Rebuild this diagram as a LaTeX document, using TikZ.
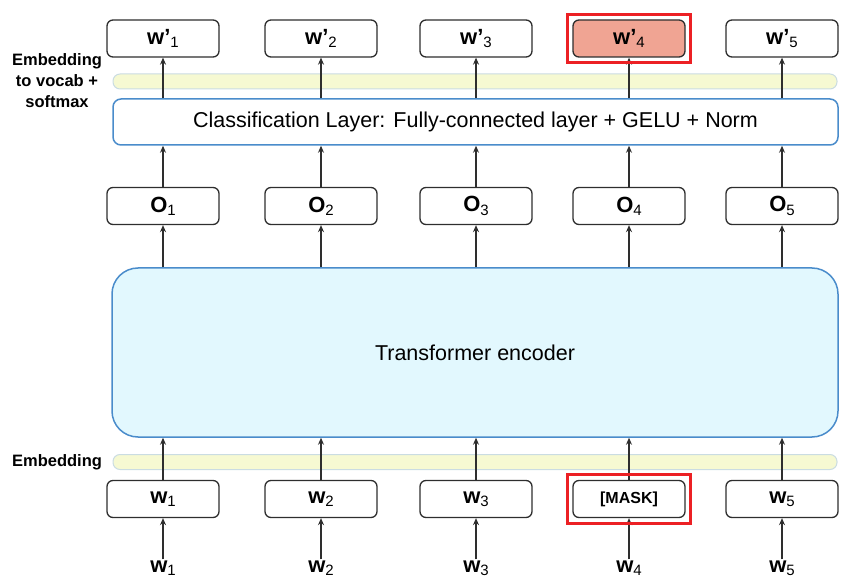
\documentclass[tikz,border=0pt]{standalone}
\usepackage{fontspec}
\setmainfont{Liberation Sans}
\usetikzlibrary{arrows.meta, fit}

\definecolor{bandyellow}{HTML}{F6F9D2}
\definecolor{bandedge}{HTML}{CADCE2}
\definecolor{layerblue}{HTML}{4A8CCB}
\definecolor{encfill}{HTML}{E2F8FE}
\definecolor{predfill}{HTML}{F0A493}
\definecolor{hlred}{HTML}{EC2024}
\definecolor{boxedge}{HTML}{2E2E2E}

\newcommand{\tok}[2]{\textbf{#1}{\fontsize{15}{15}\selectfont\raisebox{-0.22em}{#2}}}

\begin{document}
\begin{tikzpicture}[x=1pt, y=-1pt,
    tokbox/.style={draw=boxedge, line width=1.3pt, rounded corners=6pt,
        minimum width=112pt, minimum height=37pt, inner sep=0pt,
        font=\fontsize{22}{26}\selectfont},
    band/.style={draw=bandedge, line width=1pt, fill=bandyellow,
        rounded corners=7pt, minimum width=724pt, minimum height=15pt, inner sep=0pt},
    layer/.style={draw=layerblue, line width=1.5pt, fill=white, rounded corners=8pt,
        inner sep=0pt, font=\fontsize{21.5}{26}\selectfont},
    encoder/.style={draw=layerblue, line width=1.5pt, fill=encfill, rounded corners=26pt,
        inner sep=0pt, font=\fontsize{21.5}{26}\selectfont},
    sidelabel/.style={font=\fontsize{16.5}{21}\selectfont\bfseries, inner sep=0pt},
    inlabel/.style={font=\fontsize{22}{26}\selectfont, inner sep=1pt},
    hl/.style={draw=hlred, line width=3pt, inner sep=5pt},
    arr/.style={-{Stealth[length=7pt, width=6pt]}, line width=1.3pt, draw=boxedge}]
    \useasboundingbox (0,0) rectangle (860,588);

    % layers and bands
    \node[band] (topband) at (475,81.5) {};
    \node[band] (embband) at (475,462) {};
    \node[layer, minimum width=725pt, minimum height=46pt] (cls) at (475.5,122)
        {Classification Layer: Fully-connected layer + GELU + Norm};
    \node[encoder, minimum width=726pt, minimum height=169pt] (enc) at (475,352.5)
        {Transformer encoder};

    % side labels
    \node[sidelabel, align=center] (vocablbl) at (57,81) {Embedding\\to vocab +\\softmax};
    \node[sidelabel] (emblbl) at (57,462) {Embedding};

    % token columns
    \foreach \i/\x/\fc in {1/163/white, 2/321/white, 3/476/white, 4/629/predfill, 5/782/white} {
        \node[tokbox, fill=\fc] (out\i) at (\x,38.5) {\tok{w’}{\i}};
        \node[tokbox] (o\i) at (\x,206) {\tok{O}{\i}};
        \node[inlabel] (in\i) at (\x,568) {\tok{w}{\i}};
    }
    \foreach \i/\x/\txt in {1/163/{\tok{w}{1}}, 2/321/{\tok{w}{2}}, 3/476/{\tok{w}{3}},
        4/629/{\fontsize{16}{16}\selectfont\bfseries [MASK]}, 5/782/{\tok{w}{5}}} {
        \node[tokbox] (w\i) at (\x,499) {\txt};
    }

    % arrows
    \foreach \i in {1,...,5} {
        \draw[arr] (in\i.north) -- (w\i.south);
        \draw[arr] (w\i.north) -- (w\i |- enc.south);
        \draw[arr] (enc.north -| o\i) -- (o\i.south);
        \draw[arr] (o\i.north) -- (o\i |- cls.south);
        \draw[arr] (cls.north -| out\i) -- (out\i.south);
    }

    % highlights
    \node[hl, fit=(out4)] (predhl) {};
    \node[hl, fit=(w4)] (maskhl) {};
\end{tikzpicture}
\end{document}
